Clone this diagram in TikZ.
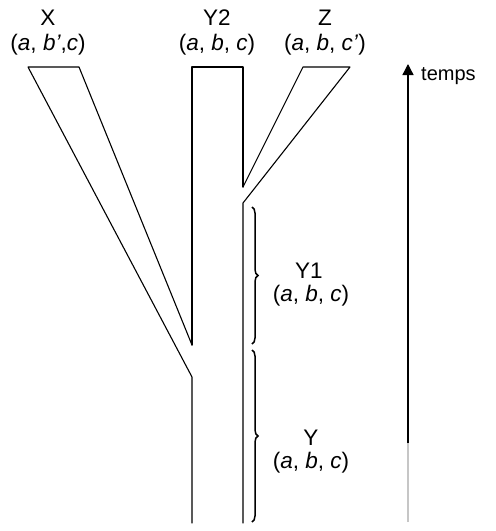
\documentclass[tikz,border=0pt]{standalone}
\usepackage{fontspec}
\setmainfont{Liberation Sans}
\usetikzlibrary{arrows.meta,decorations.pathreplacing}
\begin{document}
\begin{tikzpicture}[x=1pt,y=-1pt,
  edge/.style={line width=1.1pt,line cap=round,line join=round},
  lab/.style={inner sep=0pt,anchor=base,font=\fontsize{22.5}{26}\selectfont},
  bracestyle/.style={line width=1.5pt,decorate,decoration={brace,amplitude=6pt}}]
\useasboundingbox (0,0) rectangle (496,531);
% coordinates of the shapes
\coordinate (xa) at (28,67);
\coordinate (xb) at (79,67);
\coordinate (xv) at (192,345);
\coordinate (xj) at (192,377);
\coordinate (ya) at (192,67);
\coordinate (yb) at (243,67);
\coordinate (ybl) at (192,523);
\coordinate (ybr) at (243,523);
\coordinate (zv) at (243,187);
\coordinate (zj) at (243,203);
\coordinate (za) at (303,67);
\coordinate (zb) at (350,67);
% X branch
\draw[edge] (xv) -- (xb) -- (xa) -- (xj) -- (ybl);
% trunk Y2 top
\draw[edge] (xv) -- (ya) -- (yb) -- (zv);
% Z branch
\draw[edge] (zv) -- (za) -- (zb) -- (zj) -- (ybr);
% braces
\coordinate (b1s) at (252,207);
\coordinate (b1e) at (252,344);
\coordinate (b2s) at (252,350);
\coordinate (b2e) at (252,522);
\draw[bracestyle] (b1s) -- (b1e);
\draw[bracestyle] (b2s) -- (b2e);
% time arrow
\coordinate (tb) at (408,522);
\coordinate (tm) at (408,443);
\coordinate (tt) at (408,64);
\draw[line width=1.6pt,gray!45] (tb) -- (tm);
\draw[line width=1.3pt,-{Triangle[width=11pt,length=11pt]}] (tm) -- (tt);
\node[lab,anchor=base west,font=\fontsize{20}{24}\selectfont] (temps) at (421,80) {temps};
% labels
\node[lab] (xl1) at (48,25) {X};
\node[lab] (xl2) at (48,50) {(\textit{a}, \textit{b'},\textit{c})};
\node[lab] (y2l1) at (217,25) {Y2};
\node[lab] (y2l2) at (217,50) {(\textit{a}, \textit{b}, \textit{c})};
\node[lab] (zl1) at (325,25) {Z};
\node[lab] (zl2) at (325,50) {(\textit{a}, \textit{b}, \textit{c'})};
\node[lab] (y1l1) at (309,278) {Y1};
\node[lab] (y1l2) at (311,301) {(\textit{a}, \textit{b}, \textit{c})};
\node[lab] (yl1) at (311,445) {Y};
\node[lab] (yl2) at (311,468) {(\textit{a}, \textit{b}, \textit{c})};
\end{tikzpicture}
\end{document}
